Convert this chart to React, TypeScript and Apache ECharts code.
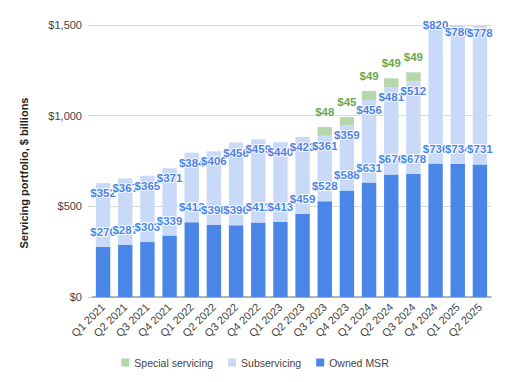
import React, { useEffect, useRef } from "react";
import * as echarts from "echarts";

const categories = [
  "Q1 2021", "Q2 2021", "Q3 2021", "Q4 2021",
  "Q1 2022", "Q2 2022", "Q3 2022", "Q4 2022",
  "Q1 2023", "Q2 2023", "Q3 2023", "Q4 2023",
  "Q1 2024", "Q2 2024", "Q3 2024", "Q4 2024",
  "Q1 2025", "Q2 2025",
];
const ownedMSR = [276, 287, 303, 339, 412, 398, 396, 411, 413, 459, 528, 588, 631, 676, 678, 736, 734, 731];
const subservicing = [352, 367, 365, 371, 384, 406, 456, 459, 440, 423, 361, 359, 456, 481, 512, 820, 780, 778];
const specialServicing: (number | null)[] = [null, null, null, null, null, null, null, null, null, null, 48, 45, 49, 49, 49, null, null, null];
const yTicks = [0, 500, 1000, 1500];

const FONT = "Arial, 'Liberation Sans', sans-serif";

export default function App() {
  const ref = useRef<HTMLDivElement>(null);
  useEffect(() => {
    document.body.style.margin = "0";
    const chart = echarts.init(ref.current!, null, { renderer: "svg" });
    const fmt = (v: number) => "$" + v.toLocaleString("en-US");
    const subTotals = ownedMSR.map((o, i) => o + subservicing[i]);
    chart.setOption({
      animation: false,
      textStyle: { fontFamily: FONT },
      grid: { left: 92, right: 19, top: 25, bottom: 85, containLabel: false },
      legend: {
        data: ["Special servicing", "Subservicing", "Owned MSR"],
        left: "center",
        top: 352,
        icon: "rect",
        itemWidth: 8,
        itemHeight: 8,
        itemGap: 15,
        textStyle: { fontSize: 10.5, color: "#444", fontFamily: FONT },
      },
      xAxis: {
        type: "category",
        data: categories,
        axisTick: { show: false },
        axisLine: { lineStyle: { color: "#9e9e9e", width: 1.5 } },
        axisLabel: { rotate: 45, fontSize: 11, color: "#444", margin: 8, interval: 0, fontFamily: FONT },
      },
      yAxis: {
        type: "value",
        min: yTicks[0],
        max: yTicks[yTicks.length - 1],
        interval: 500,
        axisLine: { show: false },
        axisTick: { show: true, length: 4, lineStyle: { color: "#ccc" } },
        splitLine: { lineStyle: { color: "#d9d9d9" } },
        axisLabel: { formatter: fmt, fontSize: 11, color: "#444", margin: 10, fontFamily: FONT },
      },
      graphic: [
        {
          type: "text",
          x: 24,
          y: 173,
          rotation: Math.PI / 2,
          style: {
            text: "Servicing portfolio, $ billions",
            fontSize: 11,
            fontWeight: "bold",
            fill: "#222",
            fontFamily: FONT,
            textAlign: "center",
            textVerticalAlign: "middle",
          },
        },
      ],
      series: [
        {
          name: "Owned MSR",
          type: "bar",
          stack: "total",
          barWidth: "65%",
          data: ownedMSR,
          itemStyle: { color: "#4a86e8" },
          label: {
            show: true,
            position: "top",
            distance: 9,
            formatter: (p: any) => fmt(p.value),
            fontSize: 11.5,
            fontWeight: "bold",
            color: "#4a86e8",
            textBorderColor: "#fff",
            textBorderWidth: 2,
            fontFamily: FONT,
          },
        },
        {
          name: "Subservicing",
          type: "bar",
          stack: "total",
          data: subservicing,
          itemStyle: { color: "#c9daf8" },
        },
        {
          name: "Special servicing",
          type: "bar",
          stack: "total",
          data: specialServicing,
          itemStyle: { color: "#b6d7a8" },
          label: {
            show: true,
            position: "top",
            distance: 9,
            formatter: (p: any) => (p.value == null ? "" : fmt(p.value)),
            fontSize: 11.5,
            fontWeight: "bold",
            color: "#6aa84f",
            textBorderColor: "#fff",
            textBorderWidth: 2,
            fontFamily: FONT,
          },
        },
        {
          name: "subLabels",
          type: "scatter",
          data: subTotals,
          symbolSize: 0,
          clip: false,
          silent: true,
          z: 10,
          label: {
            show: true,
            position: "bottom",
            distance: 4,
            formatter: (p: any) => fmt(subservicing[p.dataIndex]),
            fontSize: 11.5,
            fontWeight: "bold",
            color: "#1c5fd9",
            textBorderColor: "#fff",
            textBorderWidth: 2,
            fontFamily: FONT,
          },
        },
      ],
    });
    return () => chart.dispose();
  }, []);
  return <div ref={ref} style={{ width: 510, height: 382 }} />;
}
